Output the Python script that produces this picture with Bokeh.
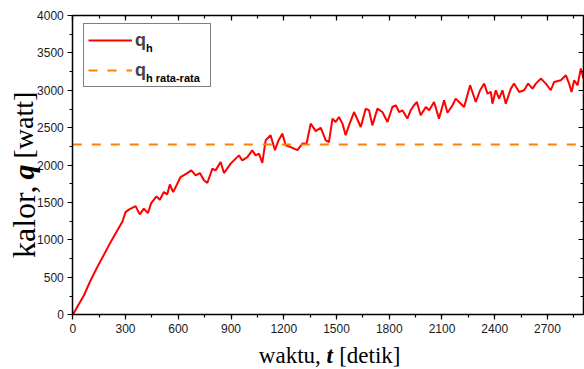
import numpy as np
from bokeh.plotting import figure
from bokeh.models import (LinearAxis, SingleIntervalTicker, Range1d, Label, Legend, LegendItem,
                          CustomLabelingPolicy)
from bokeh.embed import file_html
from bokeh.resources import INLINE

# ---- data ----
t_sec = [0, 30, 63, 101, 139, 177, 215, 253, 281, 300, 319, 357, 381, 404, 427, 446, 476, 495,
         518, 537, 552, 571, 613, 651, 674, 699, 723, 746, 765, 794, 812, 841, 860, 898, 945,
         964, 993, 1021, 1040, 1059, 1078, 1097, 1125, 1150, 1170, 1192, 1211, 1239, 1278, 1306,
         1330, 1353, 1382, 1410, 1439, 1457, 1477, 1495, 1514, 1534, 1552, 1571, 1600, 1638,
         1666, 1685, 1704, 1733, 1761, 1790, 1818, 1837, 1856, 1875, 1903, 1922, 1941, 1957,
         1979, 2008, 2027, 2055, 2083, 2112, 2131, 2160, 2178, 2197, 2226, 2260, 2292, 2317,
         2340, 2359, 2378, 2387, 2406, 2425, 2444, 2463, 2492, 2510, 2539, 2567, 2590, 2615,
         2634, 2662, 2691, 2719, 2738, 2776, 2805, 2823, 2837, 2852, 2871, 2890, 2905]
q_watt = [0, 125, 258, 459, 637, 803, 971, 1128, 1239, 1373, 1405, 1453, 1342, 1418, 1359, 1493,
          1583, 1538, 1640, 1609, 1743, 1640, 1841, 1894, 1930, 1864, 1894, 1797, 1761, 1953,
          1930, 2041, 1894, 2020, 2131, 2064, 2108, 2198, 2131, 2154, 2030, 2332, 2399, 2200,
          2330, 2421, 2265, 2242, 2200, 2288, 2290, 2555, 2455, 2500, 2332, 2309, 2622, 2577,
          2644, 2555, 2399, 2532, 2710, 2510, 2755, 2733, 2532, 2755, 2710, 2577, 2777, 2800,
          2710, 2733, 2622, 2733, 2800, 2844, 2666, 2777, 2733, 2844, 2622, 2866, 2700, 2800,
          2889, 2844, 2777, 3068, 2844, 3001, 3090, 2956, 2978, 2822, 3001, 2889, 3001, 2822,
          3023, 3090, 2978, 3001, 3090, 3023, 3090, 3157, 3090, 3001, 3112, 3134, 3201, 3090,
          2978, 3134, 3068, 3291, 3157]
q_avg = 2275

x_tick_step = 300
y_tick_step = 500
x_max = 2905
y_max = 4000

# canvas and plot-box geometry (pixels)
W, H = 584, 369
box_left, box_right, box_top, box_bottom = 72.3, 583.0, 15.0, 314.3
sx = (box_right - box_left) / x_max
sy = (box_bottom - box_top) / y_max
x_lo = -box_left / sx
x_hi = x_lo + W / sx
y_hi = y_max + box_top / sy
y_lo = -(H - box_bottom) / sy

def dx(px):   # page x pixel -> data x
    return (px - box_left) / sx

def dy(py):   # page y pixel -> data y
    return (box_bottom - py) / sy

p = figure(width=W, height=H, output_backend="svg", toolbar_location=None,
           x_range=Range1d(x_lo, x_hi), y_range=Range1d(y_lo, y_hi),
           min_border=0, x_axis_location=None, y_axis_location=None)
p.grid.visible = False
p.outline_line_color = None
p.background_fill_color = "white"
p.border_fill_color = "white"

no_labels = CustomLabelingPolicy(code="""
    for (let i = 0; i < indices.size; i++) { indices.unset(i) }
    return indices
""")

def mk_axis(step, outside, labels, loc, bounds):
    ax = LinearAxis(ticker=SingleIntervalTicker(interval=step, num_minor_ticks=2),
                    fixed_location=loc, bounds=bounds)
    ax.axis_line_width = 1.5
    ax.axis_line_color = "black"
    ax.major_tick_line_color = "black"
    ax.minor_tick_line_color = "black"
    ax.major_tick_line_width = 1.2
    ax.minor_tick_line_width = 1.2
    if outside:
        ax.major_tick_out, ax.major_tick_in = 5, 0
        ax.minor_tick_out, ax.minor_tick_in = 3, 0
    else:
        ax.major_tick_out, ax.major_tick_in = 0, 5
        ax.minor_tick_out, ax.minor_tick_in = 0, 3
    if labels:
        ax.major_label_text_font = "Liberation Sans"
        ax.major_label_text_font_size = "12px"
        ax.major_label_text_color = "#1a1a1a"
        ax.major_label_standoff = 4
    else:
        ax.major_label_policy = no_labels
        ax.major_label_standoff = 0
    return ax

p.add_layout(mk_axis(x_tick_step, True, True, 0, (0, x_max)), "below")
p.add_layout(mk_axis(y_tick_step, True, True, 0, (0, y_max)), "left")
p.add_layout(mk_axis(x_tick_step, False, False, y_max, (0, x_max)), "above")
p.add_layout(mk_axis(y_tick_step, False, False, x_max, (0, y_max)), "right")

r_q = p.line(t_sec, q_watt, line_color="#ff0000", line_width=2)
r_avg = p.line([t_sec[0], x_max], [q_avg, q_avg], line_color="#ff8000", line_width=2,
               line_dash="9 10")

legend = Legend(items=[LegendItem(label="q", renderers=[r_q]),
                       LegendItem(label="q", renderers=[r_avg])],
                location=(83, 282), margin=0, padding=4, spacing=6,
                glyph_width=44, glyph_height=24, label_height=24, label_width=71,
                label_standoff=3, border_line_color="black", border_line_width=1,
                background_fill_alpha=0,
                label_text_font="Liberation Sans", label_text_font_style="bold",
                label_text_font_size="18px", label_text_baseline="hanging")
p.add_layout(legend)

# legend subscripts
for txt, py in [("h", 47.5), ("h rata-rata", 77.5)]:
    p.add_layout(Label(x=dx(145.5), y=dy(py), text=txt, text_font="Liberation Sans",
                       text_font_style="bold", text_font_size="11px", text_color="black",
                       text_baseline="alphabetic", text_align="left", level="overlay"))

serif = "Liberation Serif"
# x axis title: waktu, t [detik]
xb = dy(355)
p.add_layout(Label(x=dx(320.3), y=xb, text="waktu,", text_font=serif, text_font_size="23px",
                   text_align="right", text_baseline="alphabetic", text_color="black"))
p.add_layout(Label(x=dx(326), y=xb, text="t", text_font=serif, text_font_style="bold italic",
                   text_font_size="23px", text_align="left", text_baseline="alphabetic",
                   text_color="black"))
p.add_layout(Label(x=dx(338.7), y=xb, text="[detik]", text_font=serif, text_font_size="23px",
                   text_align="left", text_baseline="alphabetic", text_color="black"))

# y axis title: kalor, q [watt]
yb = dx(23)
p.add_layout(Label(x=yb, y=dy(185), text="kalor,", text_font=serif, text_font_size="32px",
                   text_align="right", text_baseline="alphabetic", angle=np.pi / 2,
                   text_color="black"))
p.add_layout(Label(x=yb, y=dy(179), text="q", text_font=serif, text_font_style="bold italic",
                   text_font_size="30px", text_align="left", text_baseline="alphabetic",
                   angle=np.pi / 2, text_color="black"))
p.add_layout(Label(x=yb, y=dy(158), text="[watt]", text_font=serif, text_font_size="28px",
                   text_align="left", text_baseline="alphabetic", angle=np.pi / 2,
                   text_color="black"))

open("out.html", "w").write(file_html(p, INLINE))
